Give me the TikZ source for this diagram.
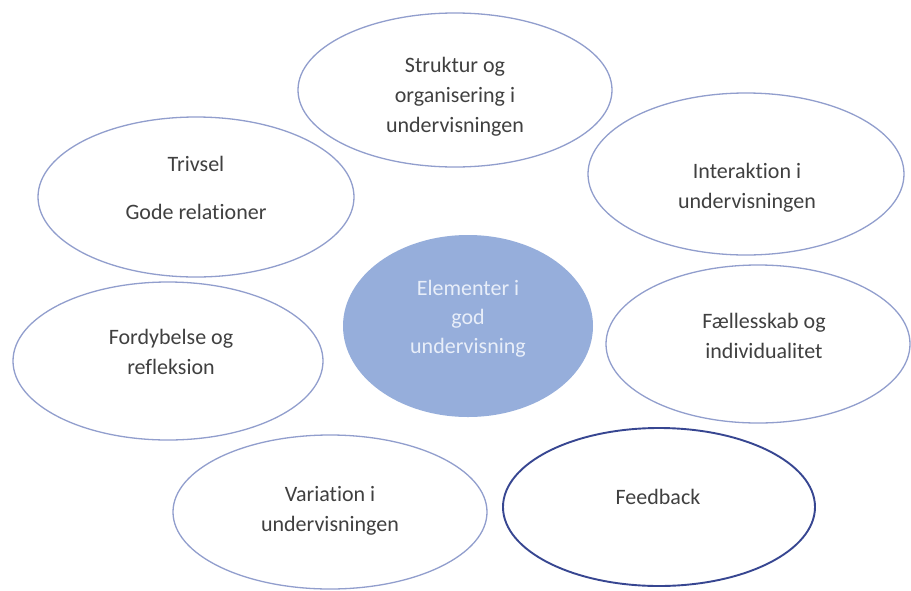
\documentclass[tikz,border=0pt]{standalone}
\usepackage{fontspec}
\setmainfont{Carlito}[Ligatures=CommonOff]
\usetikzlibrary{shapes.geometric}
\definecolor{ringblue}{RGB}{145,158,205}
\definecolor{darkring}{RGB}{55,70,145}
\definecolor{hubfill}{RGB}{150,174,219}
\definecolor{hubtext}{RGB}{232,238,249}
\definecolor{txtgray}{RGB}{64,64,64}
\tikzset{
  bubble/.style={ellipse, draw=ringblue, line width=1.3pt, inner sep=0pt},
  fbbubble/.style={ellipse, draw=darkring, line width=1.9pt, inner sep=0pt},
  hub/.style={ellipse, fill=hubfill, draw=none, inner sep=0pt},
  lbl/.style={align=center, text=txtgray, inner sep=0pt, font=\fontsize{22}{30}\selectfont},
  hublbl/.style={align=center, text=hubtext, inner sep=0pt, font=\fontsize{22}{29}\selectfont}
}
\begin{document}
\begin{tikzpicture}[x=1pt,y=-1pt]
\useasboundingbox (0,0) rectangle (911,590);
\fill[white] (0,0) rectangle (911,590);
% ellipses
\node[bubble, minimum width=314pt, minimum height=154pt] (struktur) at (455,90) {};
\node[bubble, minimum width=316pt, minimum height=160pt] (trivsel) at (196,197) {};
\node[bubble, minimum width=316pt, minimum height=162pt] (interaktion) at (746,174) {};
\node[hub, minimum width=250pt, minimum height=182pt] (hubell) at (468,326) {};
\node[bubble, minimum width=310pt, minimum height=158pt] (fordybelse) at (168,361) {};
\node[bubble, minimum width=304pt, minimum height=158pt] (faelles) at (758,344) {};
\node[bubble, minimum width=314pt, minimum height=154pt] (variation) at (330,512) {};
\node[fbbubble, minimum width=312pt, minimum height=158pt] (feedback) at (659,507) {};
% labels
\node[lbl] (t-struktur) at (455,97) {Struktur og\\organisering i\\undervisningen};
\node[lbl] (t-trivsel) at (196,188) {Trivsel\\[18pt]Gode relationer};
\node[lbl] (t-interaktion) at (747,188) {Interaktion i\\undervisningen};
\node[hublbl] (t-hub) at (468,319) {Elementer i\\god\\undervisning};
\node[lbl] (t-fordybelse) at (171,352) {Fordybelse og\\refleksion};
\node[lbl] (t-faelles) at (764,336) {Fællesskab og\\individualitet};
\node[lbl] (t-variation) at (330,511) {Variation i\\undervisningen};
\node[lbl] (t-feedback) at (658,497) {Feedback};
\end{tikzpicture}
\end{document}
